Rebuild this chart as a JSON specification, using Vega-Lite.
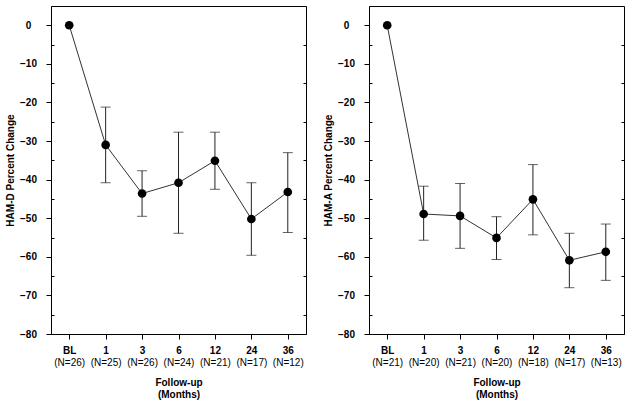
{
  "$schema": "https://vega.github.io/schema/vega-lite/v6.json",
  "padding": {"left": 5, "top": 5, "right": 5, "bottom": 2},
  "config": {
    "font": "Liberation Sans",
    "view": {"stroke": "#000", "strokeWidth": 1},
    "axis": {"domainColor": "#000", "tickColor": "#000", "labelColor": "#000", "titleColor": "#000", "grid": false, "labelFontSize": 10, "titleFontSize": 10, "labelFontWeight": "bold", "titleFontWeight": "bold"}
  },
  "datasets": {
    "hamd": [
      {"x": "BL|(N=26)", "mean": 0},
      {"x": "1|(N=25)", "mean": -31.0, "lo": -40.8, "hi": -21.2},
      {"x": "3|(N=26)", "mean": -43.6, "lo": -49.5, "hi": -37.7},
      {"x": "6|(N=24)", "mean": -40.8, "lo": -53.9, "hi": -27.7},
      {"x": "12|(N=21)", "mean": -35.1, "lo": -42.5, "hi": -27.7},
      {"x": "24|(N=17)", "mean": -50.2, "lo": -59.6, "hi": -40.8},
      {"x": "36|(N=12)", "mean": -43.2, "lo": -53.7, "hi": -33.0}
    ],
    "hama": [
      {"x": "BL|(N=21)", "mean": 0},
      {"x": "1|(N=20)", "mean": -48.9, "lo": -55.7, "hi": -41.7},
      {"x": "3|(N=21)", "mean": -49.4, "lo": -57.8, "hi": -41.0},
      {"x": "6|(N=20)", "mean": -55.1, "lo": -60.7, "hi": -49.6},
      {"x": "12|(N=18)", "mean": -45.1, "lo": -54.3, "hi": -36.1},
      {"x": "24|(N=17)", "mean": -60.9, "lo": -68.0, "hi": -53.9},
      {"x": "36|(N=13)", "mean": -58.7, "lo": -66.1, "hi": -51.5}
    ]
  },
  "spacing": 16,
  "hconcat": [
    {
      "width": 255, "height": 328,
      "data": {"name": "hamd"},
      "resolve": {"axis": {"x": "independent", "y": "independent"}},
      "layer": [
        {
          "mark": {"type": "line", "color": "#333", "strokeWidth": 1},
          "encoding": {
            "x": {"field": "x", "type": "ordinal", "sort": null, "scale": {"type": "point", "padding": 0.5},
              "axis": {"orient": "bottom", "title": null, "labelAngle": 0, "tickSize": 5, "labelPadding": 6, "labelExpr": "split(datum.label, '|')[0]"}},
            "y": {"field": "mean", "type": "quantitative", "scale": {"domain": [-80, 5], "nice": false, "zero": false},
              "axis": {"orient": "left", "title": "HAM-D Percent Change", "values": [0, -5, -10, -15, -20, -25, -30, -35, -40, -45, -50, -55, -60, -65, -70, -75, -80],
                "labelExpr": "datum.value % 10 === 0 ? datum.label : ''", "labelAlign": "center", "labelPadding": 18,
                "tickSize": {"condition": {"test": "datum.value % 10 !== 0", "value": -3}, "value": 5}, "titlePadding": 4}}
          }
        },
        {
          "mark": {"type": "rule", "color": "#222", "strokeWidth": 1},
          "encoding": {
            "x": {"field": "x", "type": "ordinal", "sort": null, "axis": null},
            "y": {"field": "lo", "type": "quantitative", "axis": null},
            "y2": {"field": "hi"}
          }
        },
        {
          "mark": {"type": "tick", "orient": "horizontal", "color": "#222", "size": 10, "thickness": 1},
          "encoding": {
            "x": {"field": "x", "type": "ordinal", "sort": null, "axis": null},
            "y": {"field": "lo", "type": "quantitative", "axis": null}
          }
        },
        {
          "mark": {"type": "tick", "orient": "horizontal", "color": "#222", "size": 10, "thickness": 1},
          "encoding": {
            "x": {"field": "x", "type": "ordinal", "sort": null, "axis": null},
            "y": {"field": "hi", "type": "quantitative", "axis": null}
          }
        },
        {
          "mark": {"type": "point", "filled": true, "color": "#000", "size": 75, "opacity": 1},
          "encoding": {
            "x": {"field": "x", "type": "ordinal", "sort": null,
              "axis": {"orient": "bottom", "offset": 23, "title": ["Follow-up", "(Months)"], "labelAngle": 0, "ticks": false, "domain": false, "labelPadding": 0, "labelFontWeight": "normal", "titlePadding": 10, "labelExpr": "split(datum.label, '|')[1]"}},
            "y": {"field": "mean", "type": "quantitative",
              "axis": {"orient": "right", "title": null, "labels": false, "domain": false, "tickSize": -3, "values": [-5, -15, -25, -35, -45, -55, -65, -75]}}
          }
        }
      ]
    },
    {
      "width": 255, "height": 328,
      "data": {"name": "hama"},
      "resolve": {"axis": {"x": "independent", "y": "independent"}},
      "layer": [
        {
          "mark": {"type": "line", "color": "#333", "strokeWidth": 1},
          "encoding": {
            "x": {"field": "x", "type": "ordinal", "sort": null, "scale": {"type": "point", "padding": 0.5},
              "axis": {"orient": "bottom", "title": null, "labelAngle": 0, "tickSize": 5, "labelPadding": 6, "labelExpr": "split(datum.label, '|')[0]"}},
            "y": {"field": "mean", "type": "quantitative", "scale": {"domain": [-80, 5], "nice": false, "zero": false},
              "axis": {"orient": "left", "title": "HAM-A Percent Change", "values": [0, -5, -10, -15, -20, -25, -30, -35, -40, -45, -50, -55, -60, -65, -70, -75, -80],
                "labelExpr": "datum.value % 10 === 0 ? datum.label : ''", "labelAlign": "center", "labelPadding": 18,
                "tickSize": {"condition": {"test": "datum.value % 10 !== 0", "value": -3}, "value": 5}, "titlePadding": 4}}
          }
        },
        {
          "mark": {"type": "rule", "color": "#222", "strokeWidth": 1},
          "encoding": {
            "x": {"field": "x", "type": "ordinal", "sort": null, "axis": null},
            "y": {"field": "lo", "type": "quantitative", "axis": null},
            "y2": {"field": "hi"}
          }
        },
        {
          "mark": {"type": "tick", "orient": "horizontal", "color": "#222", "size": 10, "thickness": 1},
          "encoding": {
            "x": {"field": "x", "type": "ordinal", "sort": null, "axis": null},
            "y": {"field": "lo", "type": "quantitative", "axis": null}
          }
        },
        {
          "mark": {"type": "tick", "orient": "horizontal", "color": "#222", "size": 10, "thickness": 1},
          "encoding": {
            "x": {"field": "x", "type": "ordinal", "sort": null, "axis": null},
            "y": {"field": "hi", "type": "quantitative", "axis": null}
          }
        },
        {
          "mark": {"type": "point", "filled": true, "color": "#000", "size": 75, "opacity": 1},
          "encoding": {
            "x": {"field": "x", "type": "ordinal", "sort": null,
              "axis": {"orient": "bottom", "offset": 23, "title": ["Follow-up", "(Months)"], "labelAngle": 0, "ticks": false, "domain": false, "labelPadding": 0, "labelFontWeight": "normal", "titlePadding": 10, "labelExpr": "split(datum.label, '|')[1]"}},
            "y": {"field": "mean", "type": "quantitative",
              "axis": {"orient": "right", "title": null, "labels": false, "domain": false, "tickSize": -3, "values": [-5, -15, -25, -35, -45, -55, -65, -75]}}
          }
        }
      ]
    }
  ]
}
